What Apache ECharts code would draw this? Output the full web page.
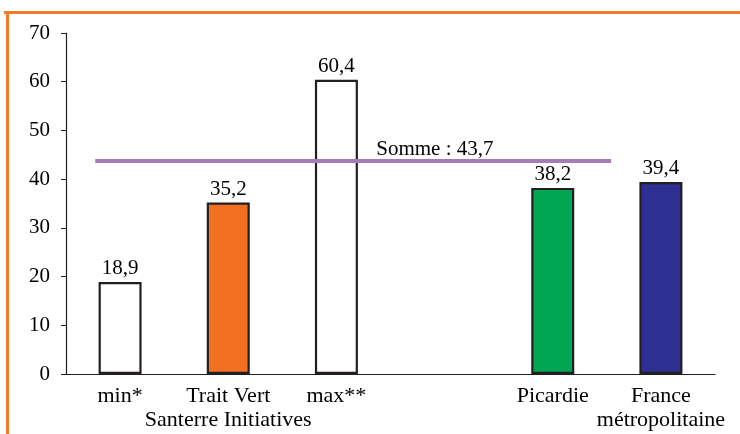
<!DOCTYPE html>
<html><head><meta charset="utf-8">
<script src="https://cdn.jsdelivr.net/npm/echarts@6/dist/echarts.min.js"></script>
<style>html,body{margin:0;padding:0;background:#fff}#c{width:740px;height:434px}</style>
</head><body><div id="c"></div>
<script>
var categories = ['min*', 'Trait Vert\nSanterre Initiatives', 'max**', '', 'Picardie', 'France\nmétropolitaine'];
var values = [18.9, 35.2, 60.4, null, 38.2, 39.4];
var barColors = ['#ffffff', '#f37021', '#ffffff', '#ffffff', '#00a651', '#2e3192'];
var sommeValue = 43.7;
var sommeLabel = 'Somme : 43,7';
var sommeStart = 0.27, sommeEnd = 5.04, sommeLabelPos = 3.41;
var yTicks = {min: 0, max: 70, interval: 10};

var font = '"Liberation Serif", "Times New Roman", serif';
var ink = '#000000';
var chart = echarts.init(document.getElementById('c'));
chart.setOption({
  animation: false,
  textStyle: {fontFamily: font},
  graphic: [
    {type: 'line', shape: {x1: 4, y1: 12.5, x2: 740, y2: 12.5}, style: {stroke: '#f47b2a', lineWidth: 3}},
    {type: 'line', shape: {x1: 7.5, y1: 11, x2: 7.5, y2: 434}, style: {stroke: '#f47b2a', lineWidth: 3}}
  ],
  grid: {left: 66, right: 25, top: 33, bottom: 60},
  xAxis: [{
    type: 'category', data: categories,
    axisLine: {lineStyle: {color: '#231f20', width: 1.2}},
    axisTick: {show: false},
    axisLabel: {color: ink, fontSize: 22, fontFamily: font, margin: 10, lineHeight: 24, interval: 0}
  }, {
    type: 'value', min: 0, max: 6, show: false
  }],
  yAxis: {
    type: 'value', min: yTicks.min, max: yTicks.max, interval: yTicks.interval,
    axisLine: {show: true, lineStyle: {color: '#231f20', width: 1.2}},
    axisTick: {show: true, length: 5, lineStyle: {color: '#231f20'}},
    splitLine: {show: false},
    axisLabel: {color: ink, fontSize: 21, fontFamily: font, margin: 16}
  },
  series: [{
    type: 'bar', xAxisIndex: 0, barWidth: 43,
    data: values.map(function (v, i) {
      return {value: v, itemStyle: {color: barColors[i]}};
    }),
    itemStyle: {borderColor: '#231f20', borderWidth: 2.2},
    label: {show: true, position: 'top', distance: 3, color: ink, fontSize: 21, fontFamily: font,
      formatter: function (p) { return String(p.value).replace('.', ','); }}
  }, {
    type: 'line', xAxisIndex: 1, symbol: 'none',
    data: [[sommeStart, sommeValue], [sommeEnd, sommeValue]],
    lineStyle: {color: '#a57cbb', width: 4}, z: 5,
    markPoint: {
      symbol: 'rect', symbolSize: 1, itemStyle: {color: 'rgba(0,0,0,0)'},
      data: [{coord: [sommeLabelPos, sommeValue]}],
      label: {show: true, position: 'top', distance: 1, formatter: sommeLabel, color: ink, fontSize: 21, fontFamily: font}
    }
  }]
});
</script></body></html>
